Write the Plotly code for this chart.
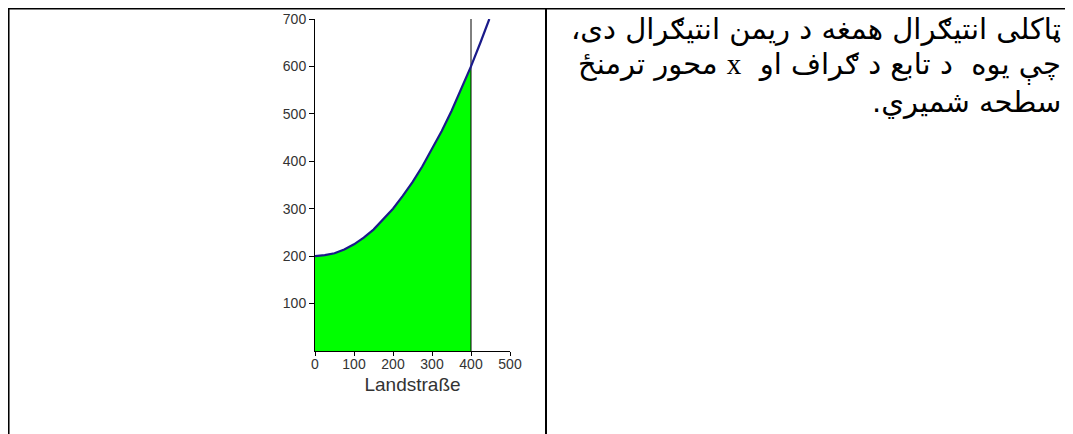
import plotly.graph_objects as go

# ---- data ----
x_vals = [0, 25, 50, 75, 100, 125, 150, 175, 200, 225, 250, 275, 300, 325, 350, 375, 400, 425, 447]
y_vals = [200, 202, 206, 214, 225, 239, 256, 277, 300, 327, 356, 389, 425, 464, 506, 552, 600, 652, 700]
upper_limit = 400
x_ticks = [0, 100, 200, 300, 400, 500]
y_ticks = [100, 200, 300, 400, 500, 600, 700]
x_title = "Landstraße"
RLE, PDF = "\u202b", "\u202c"
text_lines = [
    "ټاکلی انتیګرال همغه د ریمن انتیګرال دی،",
    "چې یوه  د تابع د ګراف او  <span style=\"font-family:'Liberation Serif'\">x</span> محور ترمنځ",
    "سطحه شمیري.",
]

OFF = 8  # page body margin
W, H = 1073 - OFF, 434 - OFF
L, R, T, B = 315 - OFF, 510 - OFF, 19 - OFF, 351 - OFF  # plot area in figure pixels


def px(x):
    return (x - L) / (R - L)


def py(y):
    return (B - y) / (B - T)


fx = [x for x in x_vals if x <= upper_limit]
fy = [y for x, y in zip(x_vals, y_vals) if x <= upper_limit]

fig = go.Figure()
fig.add_trace(go.Scatter(x=fx, y=fy, mode="lines", fill="tozeroy",
                         fillcolor="#00ff00", line=dict(width=0), hoverinfo="skip"))
fig.add_trace(go.Scatter(x=[upper_limit, upper_limit], y=[0, max(y_ticks)], mode="lines",
                         line=dict(color="black", width=1)))
fig.add_trace(go.Scatter(x=x_vals, y=y_vals, mode="lines",
                         line=dict(color="#1a1a8a", width=2.2)))

axis_font = dict(family="Liberation Sans, Arial, sans-serif", size=14, color="#333333")
fig.update_xaxes(range=[0, 500], tickvals=x_ticks, showgrid=False, zeroline=False,
                 showline=True, linecolor="black", linewidth=1,
                 ticks="outside", ticklen=4, tickcolor="black",
                 tickfont=axis_font, ticklabelstandoff=-4,
                 title=dict(text=x_title, font=dict(family="Liberation Sans, Arial, sans-serif", size=19, color="#333333"), standoff=6))
fig.update_yaxes(range=[0, 700], tickvals=y_ticks, showgrid=False, zeroline=False,
                 showline=True, linecolor="black", linewidth=1,
                 ticks="outside", ticklen=5, tickcolor="black",
                 tickfont=axis_font, layer="below traces")

shapes = [
    dict(type="line", xref="paper", yref="paper", x0=px(0), x1=px(W + 5), y0=py(0.3), y1=py(0.3),
         line=dict(color="black", width=2.5)),
    dict(type="line", xref="paper", yref="paper", x0=px(0.3), x1=px(0.3), y0=py(0), y1=py(H + 5),
         line=dict(color="black", width=2.5)),
    dict(type="line", xref="paper", yref="paper", x0=px(546 - OFF), x1=px(546 - OFF), y0=py(0), y1=py(H + 5),
         line=dict(color="black", width=2)),
]

line_y = [21, 58, 94]
annotations = []
for t, yy in zip(text_lines, line_y):
    annotations.append(dict(xref="paper", yref="paper", x=px(1062 - OFF), y=py(yy), text=RLE + t + PDF,
                            showarrow=False, xanchor="right", yanchor="middle", align="right",
                            borderpad=0,
                            font=dict(family="DejaVu Sans, sans-serif", size=29, color="black")))

fig.update_layout(width=W, height=H, margin=dict(l=L, r=W - R, t=T, b=H - B, autoexpand=False),
                  paper_bgcolor="white", plot_bgcolor="white", showlegend=False,
                  shapes=shapes, annotations=annotations)

fig.write_html("out.html")
